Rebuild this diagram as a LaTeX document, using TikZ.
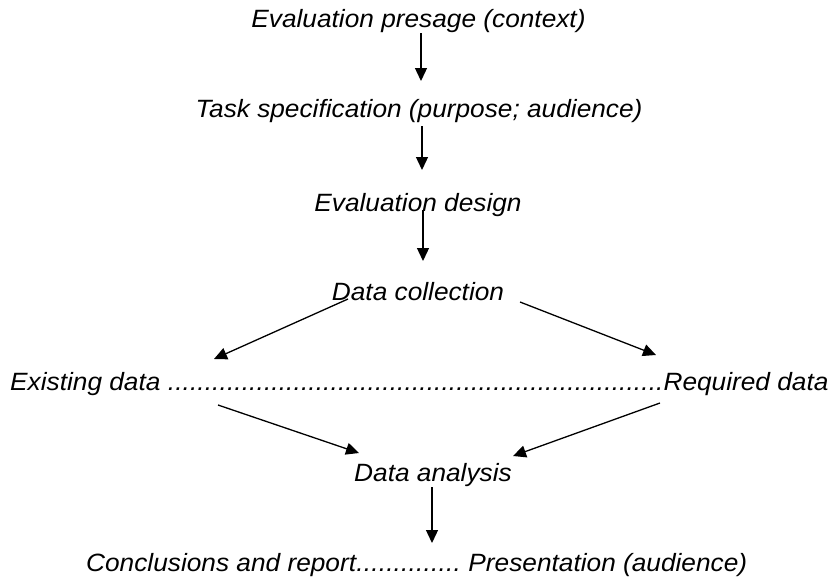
\documentclass[tikz,border=0pt]{standalone}
\usepackage{fontspec}
\newfontfamily\labfont{Liberation Sans}[FakeStretch=1.05]
\usetikzlibrary{arrows.meta}
\tikzset{
  lab/.style={inner sep=0pt, anchor=base, font=\labfont\itshape\fontsize{25}{30}\selectfont},
  arr/.style={line width=1.3pt, -{Triangle[length=13pt,width=12pt]}}
}
\newcommand{\dotlead}{\xleaders\hbox{.}\hfill}
\begin{document}
\begin{tikzpicture}[x=1pt,y=-1pt]
\useasboundingbox (0,0) rectangle (832,579);
\node[lab] (pres) at (418.5,27.5) {Evaluation presage (context)};
\node[lab] (task) at (419,117) {Task specification (purpose; audience)};
\node[lab] (design) at (418,211) {Evaluation design};
\node[lab] (coll) at (418,300) {Data collection};
\node[lab, anchor=base west] (row) at (10,390) {\makebox[818pt][l]{Existing data \dotlead Required data}};
\node[lab] (anal) at (433,481.5) {Data analysis};
\node[lab, anchor=base west] (concl) at (86,571) {\makebox[661pt][l]{Conclusions and report\dotlead\ Presentation (audience)}};
% coordinates for connector ends
\coordinate (a1s) at (421,33);  \coordinate (a1e) at (421,81);
\coordinate (a2s) at (422,126); \coordinate (a2e) at (422,170);
\coordinate (a3s) at (423,210); \coordinate (a3e) at (423,261);
\coordinate (cls) at (348,299); \coordinate (cle) at (214,359);
\coordinate (crs) at (520,302); \coordinate (cre) at (656,355);
\coordinate (els) at (218,405); \coordinate (ele) at (359,453);
\coordinate (rls) at (660,403); \coordinate (rle) at (513,456);
\coordinate (a4s) at (432,487); \coordinate (a4e) at (432,543);
\draw[arr] (a1s) -- (a1e);
\draw[arr] (a2s) -- (a2e);
\draw[arr] (a3s) -- (a3e);
\draw[arr] (cls) -- (cle);
\draw[arr] (crs) -- (cre);
\draw[arr] (els) -- (ele);
\draw[arr] (rls) -- (rle);
\draw[arr] (a4s) -- (a4e);
\end{tikzpicture}
\end{document}
